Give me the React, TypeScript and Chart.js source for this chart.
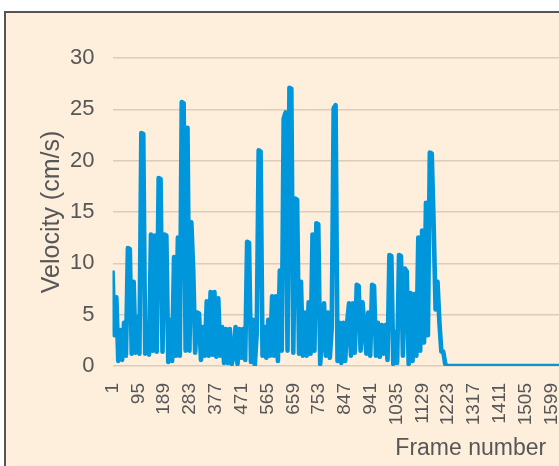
import React, { useEffect, useRef } from "react";
import { Chart, registerables } from "chart.js";

Chart.register(...registerables);

// Sampled velocity readings (cm/s), one every SAMPLE_STEP frames starting at frame 1
const SAMPLE_STEP = 7;
const FIRST_FRAME = 1;
const LAST_FRAME = 2609;
const velocity: number[] = [
  9.3, 3.0, 6.7, 0.5, 3.5, 0.6, 4.2, 1.0, 11.5, 11.4,
  1.2, 8.2, 1.3, 4.8, 1.2, 22.7, 22.6, 1.2, 3.8, 1.1,
  12.8, 1.5, 12.7, 1.4, 18.3, 18.2, 1.4, 12.8, 12.7, 0.4,
  4.5, 0.5, 10.6, 1.0, 12.5, 1.0, 25.7, 25.6, 1.5, 23.2,
  1.5, 14.0, 9.2, 1.3, 5.2, 5.1, 0.6, 3.8, 1.0, 6.3,
  1.0, 7.2, 1.1, 7.2, 0.9, 6.6, 1.0, 3.8, 0.3, 3.6,
  0.3, 3.6, 0.2, 1.0, 3.8, 0.2, 3.6, 0.8, 3.6, 0.6,
  12.1, 12.0, 0.4, 4.5, 0.1, 3.2, 21.0, 20.9, 1.0, 3.8,
  0.8, 4.5, 1.0, 6.8, 1.0, 6.8, 0.5, 9.3, 1.5, 24.1,
  24.7, 1.5, 27.1, 27.0, 1.3, 16.3, 16.2, 1.2, 8.2, 1.0,
  5.2, 1.0, 6.2, 1.2, 12.8, 1.5, 13.9, 13.8, 0.2, 2.8,
  6.1, 1.0, 5.2, 0.8, 3.7, 25.1, 25.4, 0.5, 4.2, 0.3,
  4.2, 0.5, 4.2, 6.1, 1.0, 6.1, 1.3, 7.9, 7.8, 1.5,
  6.2, 3.8, 1.2, 5.2, 1.0, 7.9, 7.8, 1.0, 4.2, 0.9,
  4.0, 1.2, 4.0, 0.6, 10.8, 10.7, 0.2, 3.3, 0.3, 10.8,
  10.7, 1.0, 9.5, 9.2, 0.2, 7.1, 0.5, 7.0, 1.0, 12.5,
  1.5, 13.2, 2.3, 15.9, 3.0, 20.8, 20.7, 13.7, 5.5, 8.2,
  4.2, 1.4, 1.4, 0.2, 0,
];
const frames: number[] = velocity.map((_, i) => FIRST_FRAME + i * SAMPLE_STEP);

const xTickLabels: number[] = [
  1, 95, 189, 283, 377, 471, 565, 659, 753, 847, 941, 1035, 1129, 1223,
  1317, 1411, 1505, 1599, 1693, 1787, 1881, 1975, 2069, 2163, 2257, 2351,
  2445, 2539,
];
const yTickValues: number[] = [0, 5, 10, 15, 20, 25, 30];

const xTitle = "Frame number";
const yTitle = "Velocity (cm/s)";

const FONT = "'Liberation Sans', Arial, Helvetica, sans-serif";
const TEXT = "#575757";

export default function App() {
  const ref = useRef<HTMLCanvasElement | null>(null);

  useEffect(() => {
    if (!ref.current) return;
    const points = frames.map((f, i) => ({ x: f, y: velocity[i] }));
    points.push({ x: LAST_FRAME, y: 0 });
    const chart = new Chart(ref.current, {
      type: "line",
      data: {
        datasets: [
          {
            data: points,
            borderColor: "#0096db",
            borderWidth: 4.6,
            borderJoinStyle: "round",
            pointRadius: 0,
            tension: 0,
            fill: false,
          },
        ],
      },
      options: {
        animation: false,
        responsive: false,
        devicePixelRatio: 1,
        layout: { padding: { top: 45, right: 27, bottom: 0, left: 0 } },
        plugins: { legend: { display: false }, tooltip: { enabled: false } },
        scales: {
          x: {
            type: "linear",
            min: FIRST_FRAME,
            max: LAST_FRAME,
            grid: { display: false, drawTicks: false },
            border: { display: false },
            afterBuildTicks: (scale: any) => {
              scale.ticks = xTickLabels.map((v) => ({ value: v }));
            },
            afterFit: (scale: any) => {
              scale.height = 127;
            },
            ticks: {
              autoSkip: false,
              minRotation: 90,
              maxRotation: 90,
              padding: 17,
              color: TEXT,
              font: { family: FONT, size: 19 },
              callback: (v: any) => String(v),
            },
            title: {
              display: true,
              text: xTitle,
              color: TEXT,
              font: { family: FONT, size: 23 },
              padding: { top: 0, bottom: 31 },
            },
          },
          y: {
            min: 0,
            max: 30,
            afterBuildTicks: (scale: any) => {
              scale.ticks = yTickValues.map((v) => ({ value: v }));
            },
            afterFit: (scale: any) => {
              scale.width = 106.5;
            },
            grid: { color: "#dccdb9", lineWidth: 1.5, drawTicks: false },
            border: { display: false },
            ticks: {
              padding: 18,
              color: TEXT,
              font: { family: FONT, size: 22 },
              callback: (v: any) => String(v),
            },
            title: {
              display: true,
              text: yTitle,
              color: TEXT,
              font: { family: FONT, size: 25 },
              padding: { top: 31, bottom: 0 },
            },
          },
        },
      },
    });
    return () => chart.destroy();
  }, []);

  return (
    <div
      style={{
        position: "fixed",
        left: 0,
        top: 0,
        width: "100vw",
        height: "100vh",
        overflow: "hidden",
        background: "#ffffff",
      }}
    >
      <div
        style={{
          position: "absolute",
          left: 4,
          top: 11,
          width: 900,
          height: 520,
          border: "2px solid #555555",
          background: "#fdefdc",
        }}
      >
        <canvas
          ref={ref}
          width={850}
          height={480}
          style={{ position: "absolute", left: 0, top: 0, width: 850, height: 480 }}
        />
      </div>
    </div>
  );
}
